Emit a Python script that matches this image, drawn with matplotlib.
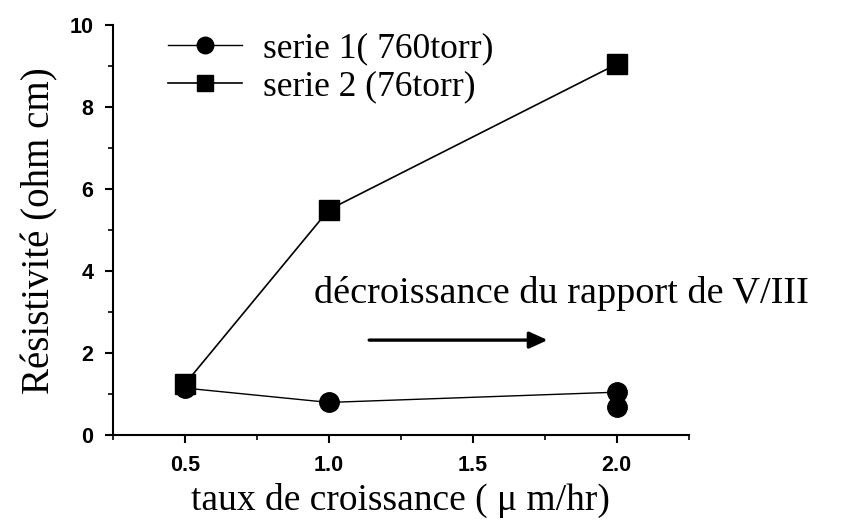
import matplotlib
matplotlib.use("Agg")
import matplotlib.pyplot as plt
from matplotlib.ticker import MultipleLocator

# Growth rate (µm/hr) and resistivity (ohm cm)
rate_s1 = [0.5, 1.0, 2.0]
res_s1 = [1.15, 0.80, 1.05]
rate_s1_extra = [2.0]
res_s1_extra = [0.70]
rate_s2 = [0.5, 1.0, 2.0]
res_s2 = [1.25, 5.50, 9.05]

x_ticks = [0.5, 1.0, 1.5, 2.0]
x_tick_labels = ["0.5", "1.0", "1.5", "2.0"]

label_s1 = "serie 1( 760torr)"
label_s2 = "serie 2 (76torr)"

serif = ["Liberation Serif", "DejaVu Serif"]
sans = ["Liberation Sans", "DejaVu Sans"]

fig = plt.figure(figsize=(8.43, 5.25), dpi=100)
ax = fig.add_axes([0.134, 0.171, 0.683, 0.781])

ax.plot(rate_s1, res_s1, color="black", lw=1.0, marker="o", ms=14,
        label=label_s1, zorder=3)
ax.plot(rate_s1_extra, res_s1_extra, color="black", lw=0, marker="o", ms=14,
        zorder=3)
ax.plot(rate_s2, res_s2, color="black", lw=1.2, marker="s", ms=14,
        label=label_s2, zorder=4)

ax.set_xlim(0.25, 2.25)
ax.set_ylim(0, 10)
ax.xaxis.set_minor_locator(MultipleLocator(0.25))
ax.yaxis.set_major_locator(MultipleLocator(2))
ax.yaxis.set_minor_locator(MultipleLocator(1))
ax.set_xticks(x_ticks)
ax.set_xticklabels(x_tick_labels)

for s in ("top", "right"):
    ax.spines[s].set_visible(False)
for s in ("left", "bottom"):
    ax.spines[s].set_linewidth(1.5)

ax.tick_params(which="major", direction="out", length=6, width=1.5)
ax.tick_params(which="minor", direction="out", length=3.5, width=1.2)
ax.tick_params(axis="x", which="major", pad=8)
ax.tick_params(axis="y", which="major", pad=8)
for lab in ax.get_xticklabels() + ax.get_yticklabels():
    lab.set_fontfamily(sans)
    lab.set_fontweight("bold")
    lab.set_fontsize(15.5)

ax.set_xlabel("taux de croissance ( \u03bc m/hr)", family=serif, fontsize=27,
              labelpad=5)
ax.set_ylabel("R\u00e9sistivit\u00e9 (ohm cm)", family=serif, fontsize=28,
              labelpad=8)

leg = ax.legend(loc="upper left", bbox_to_anchor=(0.04, 1.06), frameon=False,
                prop={"family": serif, "size": 25.5}, handlelength=2.1,
                markerscale=0.85, labelspacing=0.15, handletextpad=0.6)

ax.text(0.95, 3.45, "d\u00e9croissance du rapport de V/III", family=serif,
        fontsize=27.5, ha="left", va="center", clip_on=False)
ax.annotate("", xy=(1.76, 2.32), xytext=(1.14, 2.32),
            arrowprops=dict(arrowstyle="-|>,head_length=1.1,head_width=0.5",
                            color="black", lw=2.4, shrinkA=0, shrinkB=0))

fig.savefig("out.png", dpi=100)
